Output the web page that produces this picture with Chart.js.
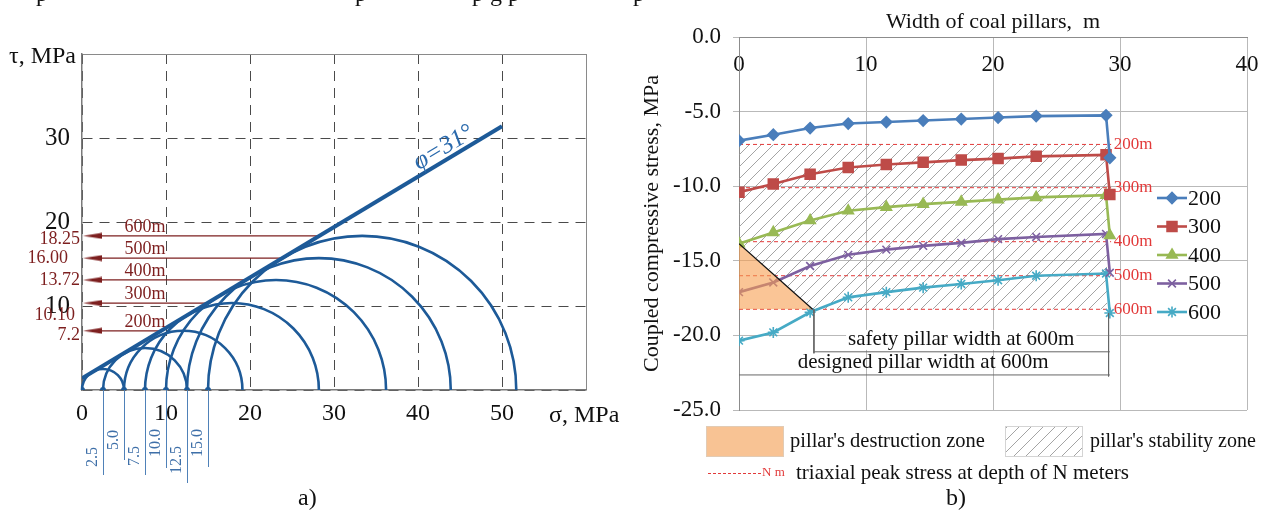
<!DOCTYPE html>
<html>
<head>
<meta charset="utf-8">
<script src="https://cdn.jsdelivr.net/npm/chart.js@4.4.1/dist/chart.umd.min.js"></script>
<style>
  html, body { margin: 0; padding: 0; background: #fff; }
  body { width: 1261px; height: 513px; position: relative; overflow: hidden; font-family: "Liberation Serif", "Times New Roman", serif; }
  canvas { position: absolute; top: 0; }
  #left { left: 0; }
  #right { left: 630px; }
  .cap { position: absolute; font-size: 24px; line-height: 24px; color: #111; }
  .frag { position: absolute; top: -19px; font-size: 24px; line-height: 24px; color: #111; }
</style>
</head>
<body>
<canvas id="left" width="630" height="513"></canvas>
<canvas id="right" width="631" height="513"></canvas>
<span class="frag" style="left:36px">p</span>
<span class="frag" style="left:355px">p</span>
<span class="frag" style="left:472px">p</span>
<span class="frag" style="left:490px">g</span>
<span class="frag" style="left:508px">p</span>
<span class="frag" style="left:633px">p</span>
<div class="cap" style="left:298px; top:485px">a)</div>
<div class="cap" style="left:946px; top:485px">b)</div>
<script>
const FONT = '"Liberation Serif", "Times New Roman", serif';

// ---- a) Mohr circles ----
const sigma3 = [0, 2.5, 5.0, 7.5, 10.0, 12.5, 15.0];
const sigma1 = [5.0, 12.5, 19.1, 28.2, 36.2, 43.9, 51.7];
const envelope = [[0, 1.4], [50, 31.4]];
const frictionLabel = 'φ=31°';
const depthNames = ['200m', '300m', '400m', '500m', '600m'];
const peakTexts = ['7.2', '10.10', '13.72', '16.00', '18.25'];
const sigmaTicks = [0, 10, 20, 30, 40, 50];
const tauTicks = [10, 20, 30];

// ---- b) coupled compressive stress vs pillar width ----
const pillarWidth = [0, 2.7, 5.6, 8.6, 11.6, 14.5, 17.5, 20.4, 23.4, 28.9, 29.2];
const stress200 = [-6.95, -6.55, -6.1, -5.8, -5.7, -5.6, -5.5, -5.4, -5.3, -5.25, -8.1];
const stress300 = [-10.4, -9.85, -9.2, -8.75, -8.55, -8.4, -8.25, -8.15, -8.0, -7.9, -10.55];
const stress400 = [-13.85, -13.1, -12.3, -11.65, -11.4, -11.2, -11.05, -10.9, -10.75, -10.6, -13.3];
const stress500 = [-17.1, -16.45, -15.35, -14.6, -14.25, -14.0, -13.8, -13.55, -13.4, -13.2, -15.8];
const stress600 = [-20.35, -19.8, -18.45, -17.45, -17.1, -16.8, -16.55, -16.3, -16.0, -15.85, -18.5];
const depths = ['200', '300', '400', '500', '600'];
const peakStress = [-7.2, -10.1, -13.72, -16.0, -18.25];
const widthTicks = [0, 10, 20, 30, 40];
const stressTicks = [0, -5, -10, -15, -20, -25];
const failWidth = 5.8;      // end of destruction zone at 600m
const zoneEnd = 29.0;       // end of stability zone
const pillarEnd = 29.2;     // designed pillar width at 600m

const BLUE = '#1d5a98';
const DARKRED = '#7d1f1f';
const REFRED = '#e23a3a';

// ---------- left chart ----------
const slope = (envelope[1][1] - envelope[0][1]) / (envelope[1][0] - envelope[0][0]);
const arrowTip = 1.25;

function arrowHead() {
  const c = document.createElement('canvas');
  c.width = 19; c.height = 7;
  const g = c.getContext('2d');
  g.fillStyle = DARKRED;
  g.beginPath(); g.moveTo(0, 3.5); g.lineTo(19, 0.5); g.lineTo(19, 6.5); g.closePath(); g.fill();
  return c;
}
const arrowImg = arrowHead();

const leftSets = [];
leftSets.push({
  data: envelope.map(p => ({x: p[0], y: p[1]})),
  showLine: true, borderColor: BLUE, borderWidth: 4, pointRadius: 0, order: 1
});
// arrows at the circle tops for 200..600 m
for (let i = 2; i < sigma3.length; i++) {
  const tau = (sigma1[i] - sigma3[i]) / 2;
  leftSets.push({
    data: [{x: arrowTip, y: tau}, {x: (tau - envelope[0][1]) / slope, y: tau}],
    showLine: true, borderColor: DARKRED, borderWidth: 1.2,
    pointStyle: arrowImg, pointRadius: [4, 0], order: 3
  });
}
leftSets.push({
  data: sigma3.map(s => ({x: s, y: 0})),
  showLine: false, pointRadius: 3, pointBackgroundColor: BLUE, pointBorderWidth: 0, order: 0
});

const mohrArcs = {
  id: 'mohrArcs',
  beforeDatasetsDraw(chart) {
    const {ctx, scales: {x, y}} = chart;
    ctx.save();
    ctx.strokeStyle = BLUE;
    ctx.lineWidth = 2.6;
    sigma3.forEach((s3, i) => {
      const cx = x.getPixelForValue((s3 + sigma1[i]) / 2);
      const r = x.getPixelForValue(sigma1[i]) - cx;
      ctx.beginPath();
      ctx.arc(cx, y.getPixelForValue(0), r, Math.PI, 2 * Math.PI);
      ctx.stroke();
    });
    ctx.restore();
  }
};

const calloutLen = [85, 70, 85, 78, 93, 77];
const calloutDy = [67, 50, 66, 53, 70, 53];
const peakRight = [80, 75, 80, 68, 80];
const peakDy = [4, 12, 0, 0, 3];

const mohrText = {
  id: 'mohrText',
  afterDraw(chart) {
    const {ctx, chartArea: a, scales: {x, y}} = chart;
    ctx.save();
    ctx.fillStyle = '#111';
    ctx.font = `24px ${FONT}`;
    ctx.textBaseline = 'alphabetic';
    ctx.textAlign = 'left';
    ctx.fillText('τ, MPa', 9, 63);
    ctx.fillText('σ, MPa', 549, 422);

    // peak stress values and depths
    for (let i = 0; i < 5; i++) {
      const tau = (sigma1[i + 2] - sigma3[i + 2]) / 2;
      const py = y.getPixelForValue(tau);
      ctx.fillStyle = DARKRED;
      ctx.textBaseline = 'middle';
      ctx.textAlign = 'right';
      ctx.font = `18px ${FONT}`;
      ctx.fillText(peakTexts[i], peakRight[i], py + peakDy[i]);
      ctx.fillText(depthNames[i], x.getPixelForValue(9.95), py - 9);
    }

    // friction angle along the envelope
    const e0 = {x: x.getPixelForValue(envelope[0][0]), y: y.getPixelForValue(envelope[0][1])};
    const e1 = {x: x.getPixelForValue(envelope[1][0]), y: y.getPixelForValue(envelope[1][1])};
    const t = 0.875;
    ctx.save();
    ctx.translate(e0.x + (e1.x - e0.x) * t, e0.y + (e1.y - e0.y) * t);
    ctx.rotate(Math.atan2(e1.y - e0.y, e1.x - e0.x));
    ctx.font = `italic 25px ${FONT}`;
    ctx.fillStyle = '#2a6aad';
    ctx.textAlign = 'center';
    ctx.textBaseline = 'alphabetic';
    ctx.fillText(frictionLabel, 0, -5);
    ctx.restore();

    // confining stress call-outs below the axis
    const base = y.getPixelForValue(0);
    ctx.strokeStyle = '#4f81b8';
    ctx.fillStyle = '#3e6fa8';
    ctx.lineWidth = 1;
    ctx.font = `16px ${FONT}`;
    sigma3.slice(1).forEach((s, i) => {
      const px = Math.round(x.getPixelForValue(s)) + 0.5;
      ctx.beginPath(); ctx.moveTo(px, base); ctx.lineTo(px, base + calloutLen[i]); ctx.stroke();
      ctx.save();
      ctx.translate(px - 7, base + calloutDy[i]);
      ctx.rotate(-Math.PI / 2);
      ctx.textAlign = 'center';
      ctx.textBaseline = 'alphabetic';
      ctx.fillText(s.toFixed(1), 0, 0);
      ctx.restore();
    });
    ctx.restore();
  }
};

const edge = (c, v) => c.tick && c.tick.value === v;

new Chart(document.getElementById('left'), {
  type: 'scatter',
  data: { datasets: leftSets },
  options: {
    responsive: false, animation: false, devicePixelRatio: 1,
    layout: { padding: { top: 54, right: 44, bottom: 0, left: 0 }, autoPadding: false },
    plugins: { legend: { display: false }, tooltip: { enabled: false } },
    scales: {
      x: {
        type: 'linear', position: 'bottom', min: 0, max: 60,
        ticks: { stepSize: 10, padding: 9, color: '#111', maxRotation: 0, autoSkip: false,
          font: { family: FONT, size: 24 },
          callback: v => sigmaTicks.includes(v) ? String(v) : '' },
        grid: { color: c => edge(c, 60) ? '#8a8a8a' : '#4a4a4a', lineWidth: 1, drawTicks: false },
        border: { color: '#7a7a7a', width: 1.5, dash: c => edge(c, 60) ? [] : [10, 7] },
        afterFit: s => { s.height = 123; }
      },
      y: {
        type: 'linear', min: 0, max: 40,
        ticks: { stepSize: 10, padding: 12, color: '#111',
          font: { family: FONT, size: 25 },
          callback: v => tauTicks.includes(v) ? String(v) : '' },
        grid: { color: c => edge(c, 40) ? '#8a8a8a' : '#4a4a4a', lineWidth: 1, drawTicks: false },
        border: { color: '#7a7a7a', width: 1.5, dash: c => edge(c, 40) ? [] : [10, 7] },
        afterFit: s => { s.width = 82; }
      }
    }
  },
  plugins: [mohrArcs, mohrText]
});

// ---------- right chart ----------
const seriesStyle = [
  { color: '#4a7ebb', pointStyle: 'rectRot', radius: 5.5 },
  { color: '#be4b48', pointStyle: 'rect', radius: 7 },
  { color: '#98b954', pointStyle: 'triangle', radius: 6 },
  { color: '#7d60a0', pointStyle: 'crossRot', radius: 5.5 },
  { color: '#46aac5', pointStyle: 'star', radius: 5.5 }
];
const allStress = [stress200, stress300, stress400, stress500, stress600];

function hatchPattern() {
  const c = document.createElement('canvas');
  c.width = 12; c.height = 12;
  const g = c.getContext('2d');
  g.strokeStyle = '#9a9a9a';
  g.lineWidth = 0.9;
  g.beginPath();
  g.moveTo(0, 12); g.lineTo(12, 0);
  g.moveTo(-1, 1); g.lineTo(1, -1);
  g.moveTo(11, 13); g.lineTo(13, 11);
  g.stroke();
  return g.createPattern(c, 'repeat');
}
const hatch = hatchPattern();

const rightSets = [];
allStress.forEach((vals, i) => {
  const st = seriesStyle[i];
  rightSets.push({
    label: depths[i],
    data: vals.map((v, k) => ({x: pillarWidth[k], y: v})),
    showLine: true, borderColor: st.color, borderWidth: 2.6,
    pointStyle: st.pointStyle, pointRadius: st.radius,
    pointBackgroundColor: st.color, pointBorderColor: st.color, pointBorderWidth: 1.6,
    order: 5
  });
});
peakStress.forEach(v => {
  rightSets.push({
    data: [{x: 0, y: v}, {x: pillarEnd + 0.1, y: v}],
    showLine: true, borderColor: REFRED, borderWidth: 1, borderDash: [4, 3],
    pointRadius: 0, order: 8
  });
});
// stability zone (hatched), bounded below by the destruction zone and the 600 m peak stress
rightSets.push({
  data: [{x: 0, y: stress400[0]}, {x: failWidth, y: peakStress[4]}, {x: zoneEnd, y: peakStress[4]}],
  showLine: true, borderWidth: 0, pointRadius: 0,
  fill: { value: peakStress[0] }, backgroundColor: hatch, order: 20
});
// destruction zone
rightSets.push({
  data: [{x: 0, y: stress400[0]}, {x: failWidth, y: peakStress[4]}],
  showLine: true, borderColor: '#111', borderWidth: 1.2, pointRadius: 0,
  fill: { value: peakStress[4] }, backgroundColor: 'rgba(247,158,80,0.6)', order: 2
});
// dimension lines
const dimSafetyY = -21.1, dimDesignY = -22.65;
[
  [[failWidth + 0.1, dimSafetyY], [pillarEnd, dimSafetyY]],
  [[0, dimDesignY], [pillarEnd, dimDesignY]],
  [[failWidth + 0.1, peakStress[4]], [failWidth + 0.1, dimSafetyY - 0.1]],
  [[pillarEnd - 0.1, stress600[10]], [pillarEnd - 0.1, dimDesignY - 0.1]]
].forEach(seg => {
  rightSets.push({
    data: seg.map(p => ({x: p[0], y: p[1]})),
    showLine: true, borderColor: '#666', borderWidth: 1, pointRadius: 0, order: 1
  });
});

const rightText = {
  id: 'rightText',
  afterDraw(chart) {
    const {ctx, chartArea: a, scales: {x, y}} = chart;
    ctx.save();
    // depth marks on the triaxial peak stress lines
    ctx.font = `17px ${FONT}`;
    ctx.fillStyle = REFRED;
    ctx.textAlign = 'left';
    ctx.textBaseline = 'middle';
    peakStress.forEach((v, i) => ctx.fillText(depthNames[i], x.getPixelForValue(29.5), y.getPixelForValue(v)));

    // dimension captions
    ctx.font = `21px ${FONT}`;
    ctx.textAlign = 'center';
    const t1 = 'safety pillar width at 600m';
    const cx1 = x.getPixelForValue(17.5), cy1 = y.getPixelForValue(-20.3);
    const w1 = ctx.measureText(t1).width;
    ctx.fillStyle = '#fff';
    ctx.fillRect(cx1 - w1 / 2 - 2, cy1 - 10, w1 + 4, 20);
    ctx.fillStyle = '#111';
    ctx.fillText(t1, cx1, cy1);
    ctx.fillText('designed pillar width at 600m', x.getPixelForValue(14.5), y.getPixelForValue(-21.8));

    // series legend inside the plot
    const lx = a.right - 90, ly = a.top + 161;
    ctx.textAlign = 'left';
    ctx.font = `22px ${FONT}`;
    depths.forEach((d, i) => {
      const st = seriesStyle[i];
      const yy = ly + i * 28.5;
      ctx.strokeStyle = st.color;
      ctx.fillStyle = st.color;
      ctx.lineWidth = 2.6;
      ctx.beginPath(); ctx.moveTo(lx, yy); ctx.lineTo(lx + 30, yy); ctx.stroke();
      ctx.lineWidth = 1.6;
      Chart.helpers.drawPoint(ctx, { pointStyle: st.pointStyle, radius: st.radius, rotation: 0, borderWidth: 1.6 }, lx + 15, yy);
      ctx.fillStyle = '#111';
      ctx.fillText(d, lx + 31, yy + 1);
    });

    // zone legend under the plot
    ctx.fillStyle = '#f8c394';
    ctx.fillRect(76, 426, 77, 30);
    ctx.strokeStyle = '#e2cbb4';
    ctx.lineWidth = 1;
    ctx.strokeRect(76.5, 426.5, 77, 30);
    ctx.fillStyle = hatch;
    ctx.fillRect(375, 426, 77, 30);
    ctx.strokeStyle = '#d4d4d4';
    ctx.strokeRect(375.5, 426.5, 77, 30);
    ctx.fillStyle = '#111';
    ctx.font = `20.5px ${FONT}`;
    ctx.fillText("pillar's destruction zone", 160, 442);
    ctx.font = `20px ${FONT}`;
    ctx.fillText("pillar's stability zone", 460, 442);
    ctx.strokeStyle = REFRED;
    ctx.setLineDash([3, 2]);
    ctx.beginPath(); ctx.moveTo(78, 473.5); ctx.lineTo(131, 473.5); ctx.stroke();
    ctx.setLineDash([]);
    ctx.fillStyle = REFRED;
    ctx.font = `13px ${FONT}`;
    ctx.fillText('N m', 132, 473);
    ctx.fillStyle = '#111';
    ctx.font = `21px ${FONT}`;
    ctx.fillText('triaxial peak stress at depth of N meters', 166, 473);
    ctx.restore();
  }
};

new Chart(document.getElementById('right'), {
  type: 'scatter',
  data: { datasets: rightSets },
  options: {
    responsive: false, animation: false, devicePixelRatio: 1,
    layout: { padding: { top: 0, right: 14, bottom: 103, left: 0 }, autoPadding: false },
    plugins: { legend: { display: false }, tooltip: { enabled: false } },
    scales: {
      x: {
        type: 'linear', position: 'top', min: 0, max: 40,
        ticks: { stepSize: 10, mirror: true, padding: 14, color: '#111', maxRotation: 0, autoSkip: false,
          font: { family: FONT, size: 23 },
          callback: v => widthTicks.includes(v) ? String(v) : '' },
        grid: { color: '#b9b9b9', lineWidth: 1, drawTicks: false },
        border: { color: '#8c8c8c', width: 1 },
        title: { display: true, text: 'Width of coal pillars,  m', color: '#111',
          font: { family: FONT, size: 22 }, padding: { top: 9, bottom: 0 } },
        afterFit: s => { s.height = 37; s.paddingLeft = 0; s.paddingRight = 12; }
      },
      y: {
        type: 'linear', min: -25, max: 0,
        ticks: { stepSize: 5, padding: 12, color: '#111',
          font: { family: FONT, size: 23 },
          callback: v => stressTicks.includes(v) ? v.toFixed(1) : '' },
        grid: { color: '#b9b9b9', lineWidth: 1, tickLength: 6 },
        border: { color: '#8c8c8c', width: 1 },
        title: { display: true, text: 'Coupled compressive stress, MPa', color: '#111',
          font: { family: FONT, size: 22 }, padding: { top: 9, bottom: 0 } },
        afterFit: s => { s.width = 109; }
      }
    }
  },
  plugins: [rightText]
});
</script>
</body>
</html>
